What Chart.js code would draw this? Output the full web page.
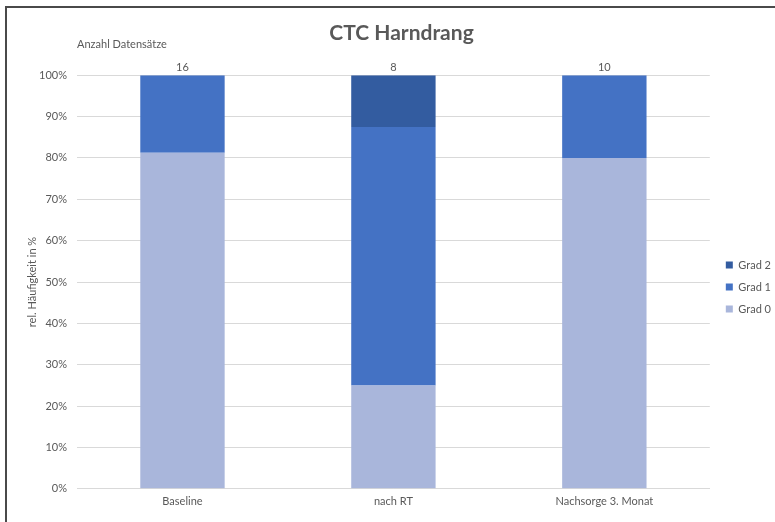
<!DOCTYPE html>
<html><head><meta charset="utf-8">
<script src="https://cdn.jsdelivr.net/npm/chart.js@4.4.1/dist/chart.umd.min.js"></script>
<style>
html,body{margin:0;padding:0;background:#fff;}
#wrap{position:absolute;left:0;top:0;width:775px;height:522px;}
#frame{position:absolute;left:5px;top:6px;width:770px;height:516px;border-top:2px solid #4a4a4a;border-left:2px solid #4a4a4a;box-sizing:border-box;pointer-events:none;}
</style></head>
<body>
<div id="wrap"><canvas id="c" width="775" height="522"></canvas></div>
<div id="frame"></div>
<script>
const categories = ["Baseline", "nach RT", "Nachsorge 3. Monat"];
const counts = [16, 8, 10];
const grad0 = [81.25, 25, 80];
const grad1 = [18.75, 62.5, 20];
const grad2 = [0, 12.5, 0];
const seriesNames = ["Grad 0", "Grad 1", "Grad 2"];
const yTicks = [0,10,20,30,40,50,60,70,80,90,100];

const txt = '#595959';
const FONT = 'Lato, "Open Sans", sans-serif';

const annot = {
  id: 'annot',
  afterDatasetsDraw(chart){
    const ctx = chart.ctx, a = chart.chartArea;
    const x = chart.scales.x, y = chart.scales.y;
    ctx.save();
    ctx.fillStyle = txt;
    ctx.font = '11px ' + FONT;
    ctx.textAlign = 'left'; ctx.textBaseline = 'middle';
    ctx.fillText('Anzahl Datensätze', a.left, 44);
    ctx.textAlign = 'center'; ctx.textBaseline = 'bottom';
    counts.forEach((n,i)=>{
      const top = grad0[i]+grad1[i]+grad2[i];
      ctx.fillText(String(n), x.getPixelForValue(i), y.getPixelForValue(top) - 2);
    });
    ctx.restore();
  }
};

new Chart(document.getElementById('c'), {
  type: 'bar',
  data: {
    labels: categories,
    datasets: [
      {label: seriesNames[0], data: grad0, backgroundColor: '#A9B6DB'},
      {label: seriesNames[1], data: grad1, backgroundColor: '#4472C4'},
      {label: seriesNames[2], data: grad2, backgroundColor: '#335CA0'}
    ]
  },
  options: {
    responsive: false,
    animation: false,
    layout: {padding: {left: 22, top: 8, right: -6, bottom: 8}},
    datasets: {bar: {categoryPercentage: 1, barPercentage: 0.4, borderWidth: 0}},
    plugins: {
      title: {display: true, text: 'CTC Harndrang', color: txt,
        font: {family: FONT, size: 21, weight: 'bold'}, padding: {top: 13, bottom: 29}},
      legend: {position: 'right', reverse: true,
        title: {display: true, text: ' ', font: {size: 10}, padding: 20},
        labels: {boxWidth: 7, boxHeight: 7, padding: 11, color: txt,
          font: {family: FONT, size: 11}}},
      tooltip: {enabled: false}
    },
    scales: {
      x: {stacked: true,
        grid: {display: false, drawTicks: false, tickLength: 0},
        border: {display: true, color: '#d9d9d9'},
        ticks: {color: txt, font: {family: FONT, size: 11}, padding: 6}},
      y: {stacked: true, min: 0, max: 100,
        afterBuildTicks(s){ s.ticks = yTicks.map(v=>({value:v})); },
        afterFit(s){ s.width = 55; },
        grid: {color: '#d9d9d9', drawTicks: false},
        border: {display: false},
        ticks: {color: txt, font: {family: FONT, size: 11}, padding: 10,
          callback: v => v + '%'},
        title: {display: true, text: 'rel. Häufigkeit in %', color: txt,
          font: {family: FONT, size: 11}, padding: {bottom: 2}}
      },
      y2: {position: 'right', display: true,
        afterFit(s){ s.width = 5; },
        grid: {display: false}, border: {display: false},
        ticks: {display: false}}
    }
  },
  plugins: [annot]
});
</script>
</body></html>
